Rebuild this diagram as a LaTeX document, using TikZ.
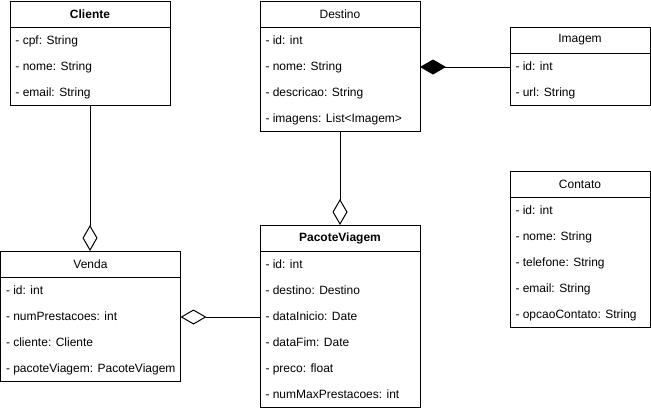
\documentclass[tikz,border=0pt]{standalone}
\usepackage{fontspec}
\setmainfont{Liberation Sans}
\usetikzlibrary{arrows.meta,calc}

\begin{document}
\begin{tikzpicture}[x=1pt,y=-1pt,line width=1pt,
    head/.style={draw, minimum height=26pt, inner sep=0pt, outer sep=0pt, anchor=north west, font=\fontsize{12}{14}\selectfont},
    body/.style={draw, inner sep=0pt, outer sep=0pt, anchor=north west},
    attr/.style={anchor=west, inner sep=0pt, text height=9pt, text depth=3pt, font=\fontsize{12}{14}\selectfont},
    aggr/.style={{Diamond[open,length=26pt,width=15pt]}-},
    comp/.style={{Diamond[length=26pt,width=15pt]}-}]

    \useasboundingbox (0,0) rectangle (651,410);

    % Cliente
    \node[head, minimum width=160pt] (cliente) at (10,1) {\bfseries Cliente};
    \node[body, minimum width=160pt, minimum height=78pt] (clienteBody) at (cliente.south west) {};
    \foreach \t [count=\i] in {- cpf: String, - nome: String, - email: String}
        \node[attr] (cliente-\i) at ($(clienteBody.north west)+(5,26*\i-12)$) {\t};

    % Destino
    \node[head, minimum width=160pt] (destino) at (260,1) {Destino};
    \node[body, minimum width=160pt, minimum height=104pt] (destinoBody) at (destino.south west) {};
    \foreach \t [count=\i] in {- id: int, - nome: String, - descricao: String, - imagens: List<Imagem>}
        \node[attr] (destino-\i) at ($(destinoBody.north west)+(5,26*\i-12)$) {\t};

    % Imagem
    \node[head, minimum width=140pt] (imagem) at (510,27) {Imagem};
    \node[body, minimum width=140pt, minimum height=52pt] (imagemBody) at (imagem.south west) {};
    \foreach \t [count=\i] in {- id: int, - url: String}
        \node[attr] (imagem-\i) at ($(imagemBody.north west)+(5,26*\i-12)$) {\t};

    % Contato
    \node[head, minimum width=140pt] (contato) at (510,171) {Contato};
    \node[body, minimum width=140pt, minimum height=130pt] (contatoBody) at (contato.south west) {};
    \foreach \t [count=\i] in {- id: int, - nome: String, - telefone: String, - email: String, - opcaoContato: String}
        \node[attr] (contato-\i) at ($(contatoBody.north west)+(5,26*\i-12)$) {\t};

    % PacoteViagem
    \node[head, minimum width=160pt] (pacote) at (260,225) {\bfseries PacoteViagem};
    \node[body, minimum width=160pt, minimum height=156pt] (pacoteBody) at (pacote.south west) {};
    \foreach \t [count=\i] in {- id: int, - destino: Destino, - dataInicio: Date, - dataFim: Date, - preco: float, - numMaxPrestacoes: int}
        \node[attr] (pacote-\i) at ($(pacoteBody.north west)+(5,26*\i-12)$) {\t};

    % Venda
    \node[head, minimum width=180pt] (venda) at (0.5,251) {Venda};
    \node[body, minimum width=180pt, minimum height=104pt] (vendaBody) at (venda.south west) {};
    \foreach \t [count=\i] in {- id: int, - numPrestacoes: int, - cliente: Cliente, - pacoteViagem: PacoteViagem}
        \node[attr] (venda-\i) at ($(vendaBody.north west)+(5,26*\i-12)$) {\t};

    % associations
    \draw[aggr] (venda.north -| clienteBody.south) -- (clienteBody.south);
    \draw[aggr] (pacote.north) -- (destinoBody.south);
    \draw[aggr] (venda-2 -| vendaBody.east) -- (pacote-3 -| pacoteBody.west);
    \draw[comp] (destino-2 -| destinoBody.east) -- (imagem-1 -| imagemBody.west);

\end{tikzpicture}
\end{document}
